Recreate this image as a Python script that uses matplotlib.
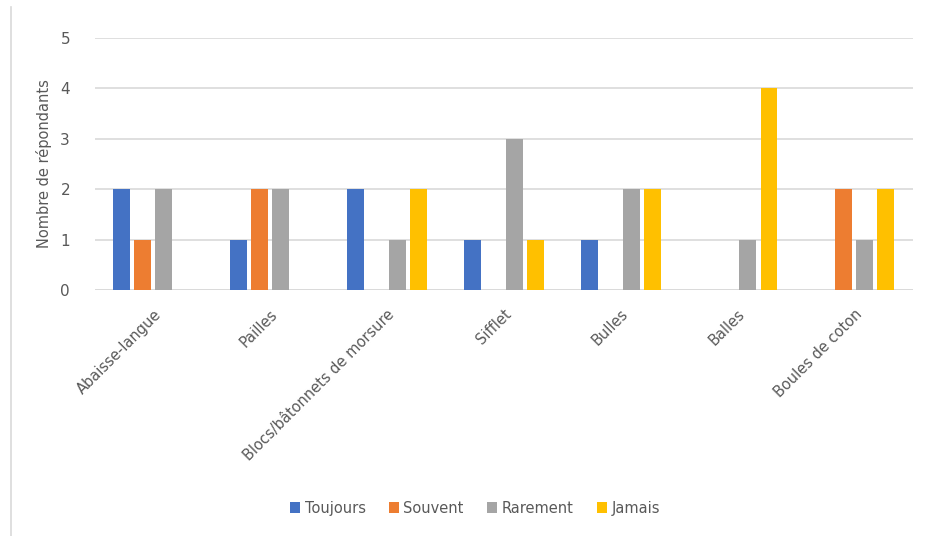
import matplotlib.pyplot as plt
import numpy as np
from matplotlib.lines import Line2D

# Data
categories = ['Abaisse-langue', 'Pailles', 'Blocs/bâtonnets de morsure',
              'Sifflet', 'Bulles', 'Balles', 'Boules de coton']
series = ['Toujours', 'Souvent', 'Rarement', 'Jamais']
toujours = [2, 1, 2, 1, 1, 0, 0]
souvent = [1, 2, 0, 0, 0, 0, 2]
rarement = [2, 2, 1, 3, 2, 1, 1]
jamais = [0, 0, 2, 1, 2, 4, 2]
colors = ['#4472C4', '#ED7D31', '#A5A5A5', '#FFC000']

values = [toujours, souvent, rarement, jamais]

fig = plt.figure(figsize=(9.26, 5.36), dpi=100)
ax = fig.add_axes([0.1026, 0.459, 0.883, 0.470])

x = np.arange(len(categories))
slot = 0.18
width = 0.145
for i, (name, vals) in enumerate(zip(series, values)):
    ax.bar(x + (i - 1.5) * slot, vals, width=width, color=colors[i],
           label=name, zorder=3)

ax.set_xlim(-0.5, len(categories) - 0.5)
ax.set_ylim(0, 5)
ax.set_yticks(range(6))
ax.yaxis.grid(True, color='#D9D9D9', linewidth=1.2, zorder=0)
for s in ax.spines.values():
    s.set_visible(False)
ax.axhline(0, color='#D9D9D9', linewidth=1.2, zorder=2)
ax.tick_params(length=0, colors='#595959', labelsize=11)
ax.tick_params(axis='y', pad=18)
ax.set_xticks(x)
ax.set_xticklabels(categories, rotation=45, ha='right', rotation_mode='anchor',
                   fontsize=10.5, color='#595959')
ax.tick_params(axis='x', pad=12)
ax.set_ylabel('Nombre de répondants', color='#595959', fontsize=10.5,
              labelpad=6)

ax.legend(loc='center', bbox_to_anchor=(0.513, 0.052), bbox_transform=fig.transFigure,
          ncol=4, frameon=False, fontsize=10.5, handlelength=0.7,
          handleheight=0.7, handletextpad=0.3, columnspacing=1.6,
          labelcolor='#595959')

fig.add_artist(Line2D([0.012, 0.012], [0.0, 0.987], transform=fig.transFigure,
                      color='#D9D9D9', linewidth=1.2))

fig.savefig('out.png', dpi=100, facecolor='white')
